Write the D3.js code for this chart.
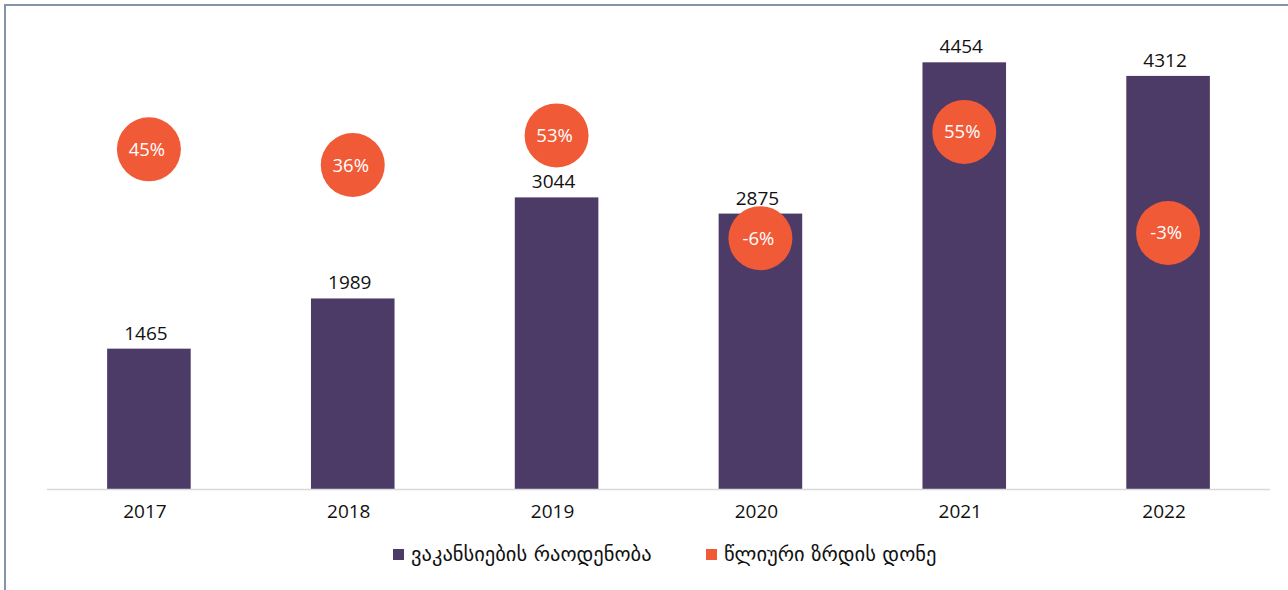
<!DOCTYPE html>
<html>
<head>
  <meta charset="utf-8">
  <script src="https://d3js.org/d3.v7.min.js"></script>
  <style>
    body { margin: 0; background: #fff; }
    svg text { font-family: "Open Sans", "DejaVu Sans", sans-serif; }
    svg text.leg { font-family: "DejaVu Sans", sans-serif; }
  </style>
</head>
<body>
<script>
  // data
  var years = ["2017", "2018", "2019", "2020", "2021", "2022"];
  var vacancies = [1465, 1989, 3044, 2875, 4454, 4312];
  var growth = [0.45, 0.36, 0.53, -0.06, 0.55, -0.03];
  var legendLabels = ["ვაკანსიების რაოდენობა", "წლიური ზრდის დონე"];

  var W = 1288, H = 590;
  var barColor = "#4d3b67", dotColor = "#f15a37";

  var svg = d3.select("body").append("svg")
    .attr("width", W).attr("height", H);

  // outer frame (runs off the right and bottom edge)
  svg.append("rect")
    .attr("x", 5).attr("y", 5)
    .attr("width", W + 10).attr("height", H + 10)
    .attr("fill", "#fff")
    .attr("stroke", "#8595a5")
    .attr("stroke-width", 2);

  var x = d3.scaleBand().domain(years).range([47, 1270]).paddingInner(0.59).paddingOuter(0.295);
  var y = d3.scaleLinear().domain([0, 5000]).range([489, 10]);
  var y2 = d3.scaleLinear().domain([-1.5, 1.25]).range([489, 10]);

  // bars
  svg.selectAll("rect.bar")
    .data(vacancies)
    .enter()
    .append("rect")
    .attr("class", "bar")
    .attr("x", (d, i) => x(years[i]))
    .attr("width", x.bandwidth())
    .attr("y", d => y(d))
    .attr("height", d => y(0) - y(d))
    .attr("fill", barColor);

  // bar value labels
  svg.selectAll("text.val")
    .data(vacancies)
    .enter()
    .append("text")
    .attr("class", "val")
    .attr("x", (d, i) => x(years[i]) + x.bandwidth() / 2 - 3)
    .attr("y", d => y(d) - 9)
    .attr("text-anchor", "middle")
    .attr("font-size", 19)
    .attr("fill", "#111")
    .text(d => d);

  // x axis line
  svg.append("line")
    .attr("x1", 47).attr("x2", 1270)
    .attr("y1", y(0) + 0.5).attr("y2", y(0) + 0.5)
    .attr("stroke", "#d9d9d9")
    .attr("stroke-width", 1.5);

  // year labels
  svg.selectAll("text.year")
    .data(years)
    .enter()
    .append("text")
    .attr("class", "year")
    .attr("x", d => x(d) + x.bandwidth() / 2 - 4)
    .attr("y", 518)
    .attr("text-anchor", "middle")
    .attr("font-size", 19)
    .attr("fill", "#111")
    .text(d => d);

  // growth circles
  var g = svg.selectAll("g.dot")
    .data(growth)
    .enter()
    .append("g")
    .attr("class", "dot")
    .attr("transform", (d, i) => "translate(" + (x(years[i]) + x.bandwidth() / 2) + "," + y2(d) + ")");

  g.append("circle")
    .attr("r", 32)
    .attr("fill", dotColor);

  g.append("text")
    .attr("x", -2)
    .attr("text-anchor", "middle")
    .attr("dy", "0.35em")
    .attr("font-size", 18.5)
    .attr("fill", "#fff")
    .text(d => d3.format(".0%")(d).replace("−", "-"));

  // legend
  var legendX = [393, 706];
  var lg = svg.selectAll("g.legend")
    .data(legendLabels)
    .enter()
    .append("g")
    .attr("class", "legend")
    .attr("transform", (d, i) => "translate(" + legendX[i] + ",549)");

  lg.append("rect")
    .attr("width", 11).attr("height", 11)
    .attr("fill", (d, i) => i == 0 ? barColor : dotColor);

  lg.append("text")
    .attr("class", "leg")
    .attr("x", 18)
    .attr("y", 12)
    .attr("font-size", 20.5)
    .attr("fill", "#111")
    .text(d => d);
</script>
</body>
</html>
